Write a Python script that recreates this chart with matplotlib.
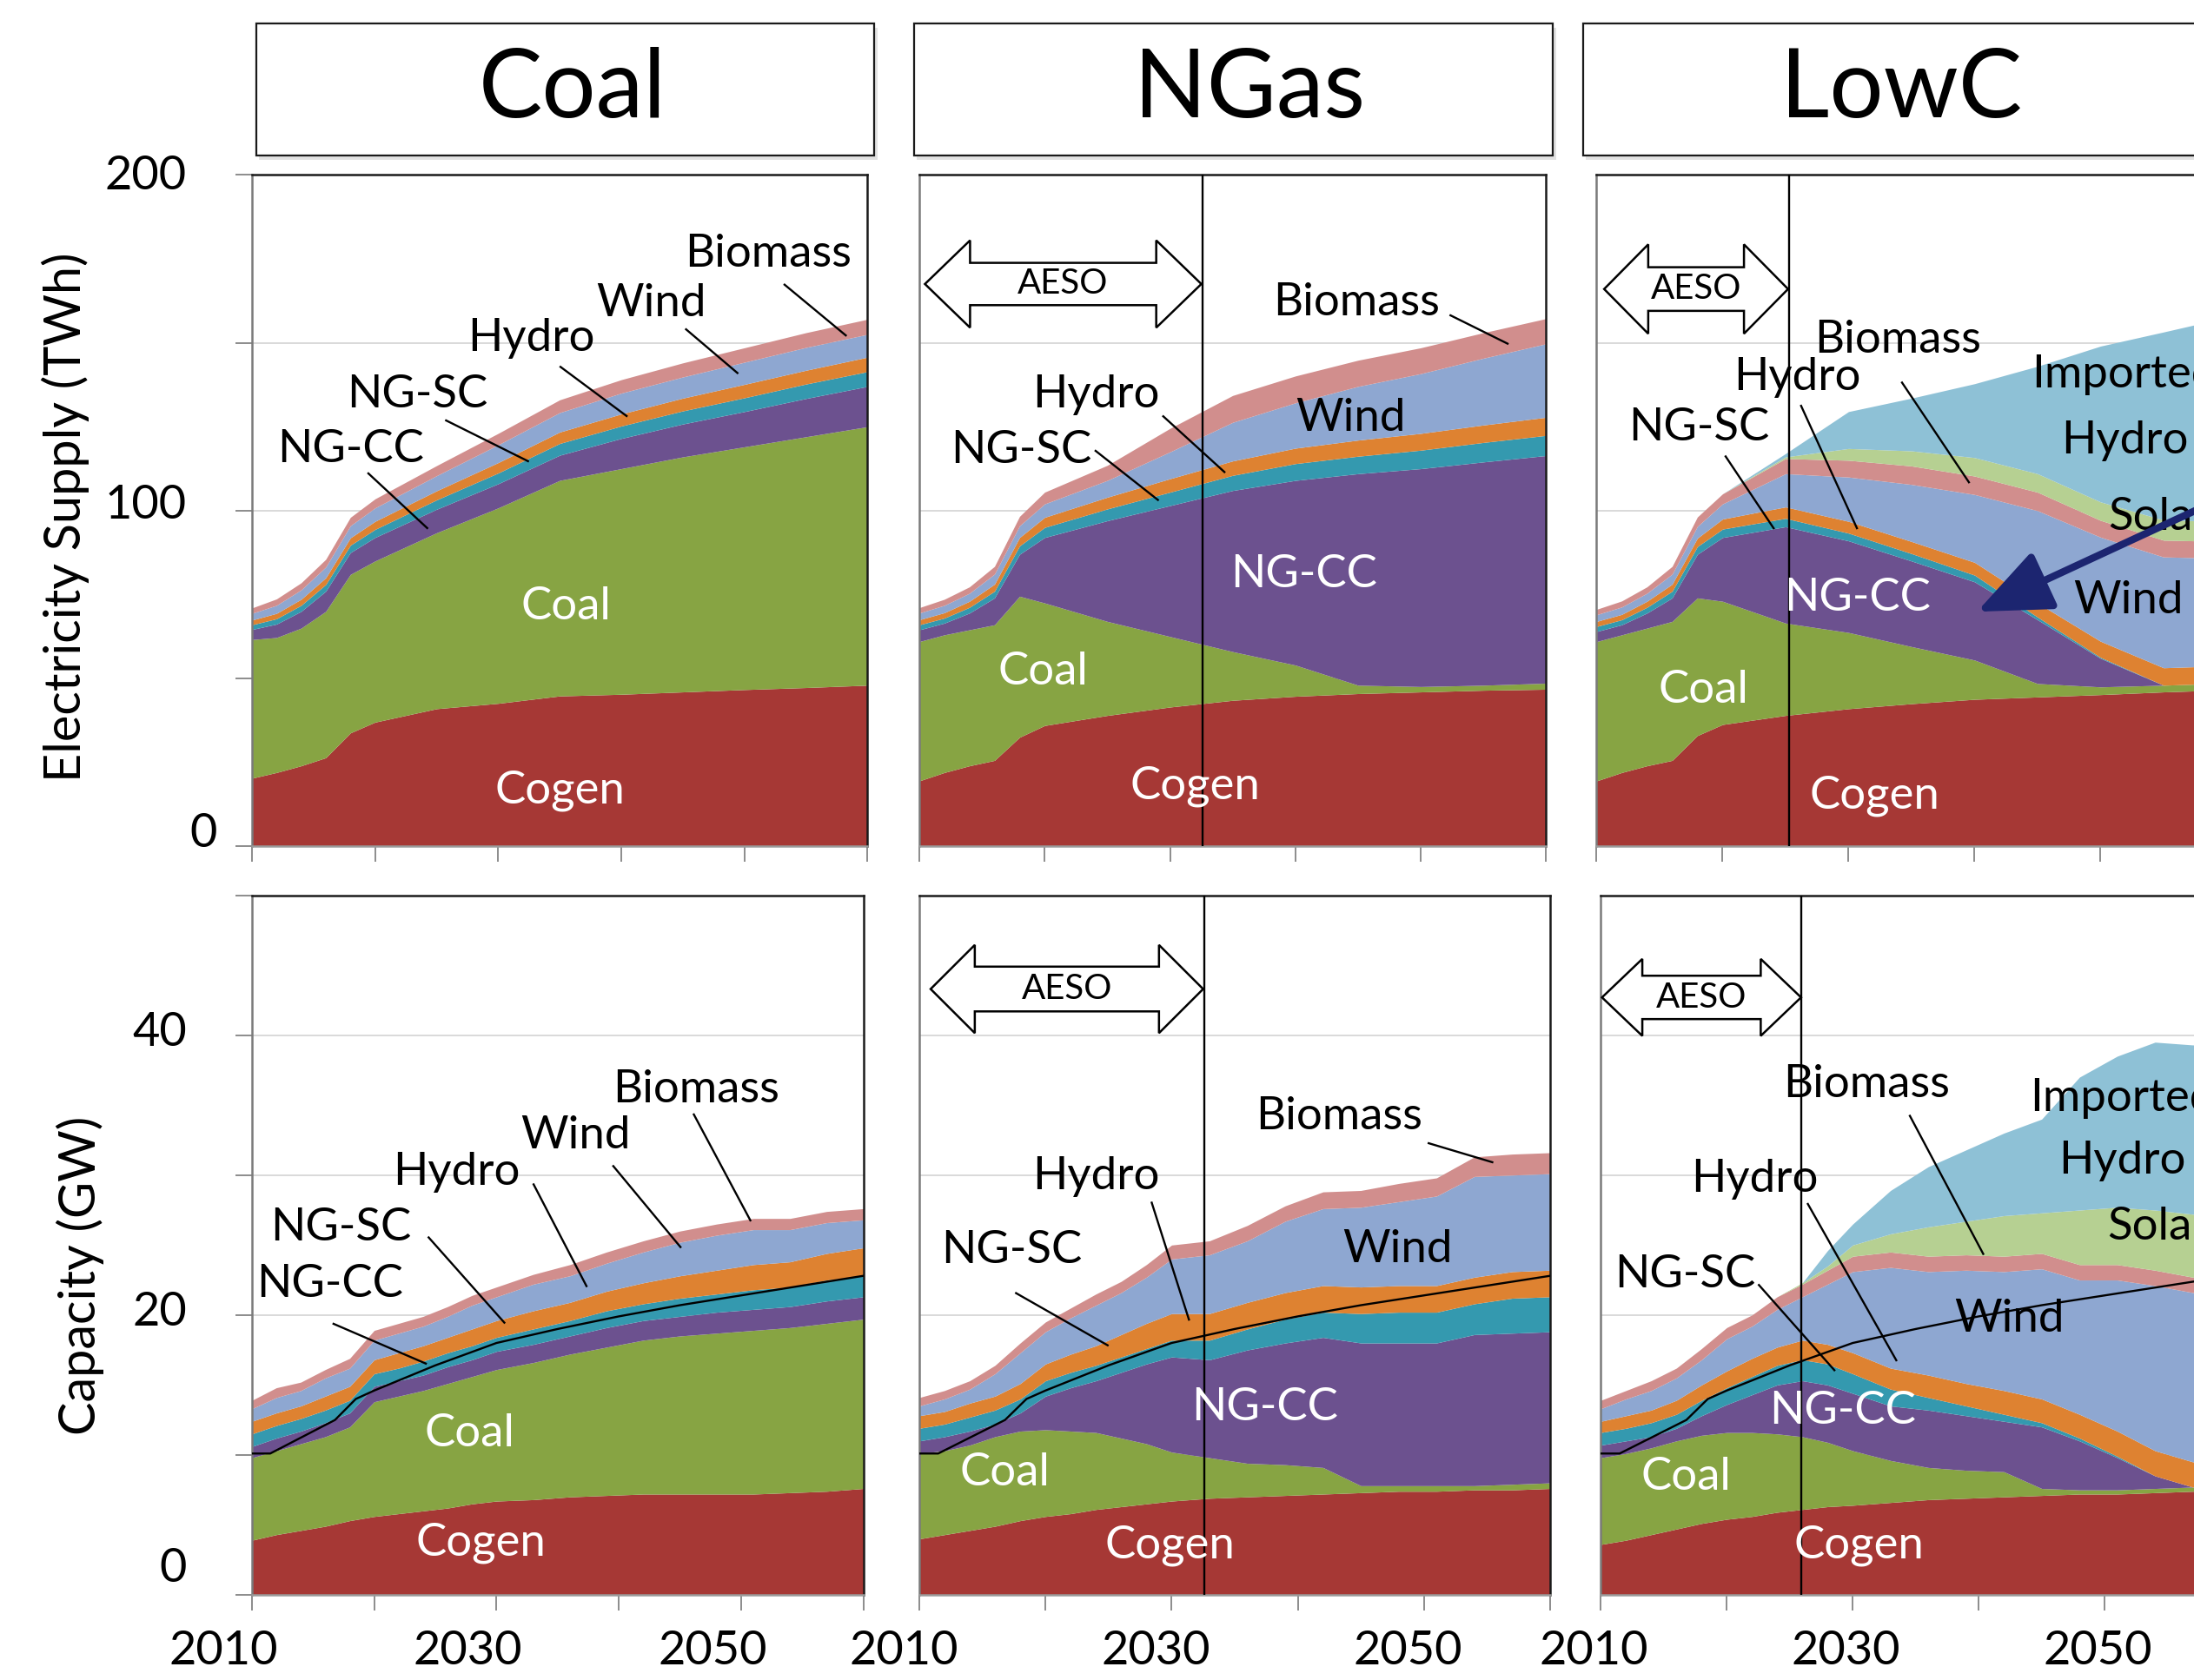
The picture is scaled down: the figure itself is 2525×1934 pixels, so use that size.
import numpy as np
import matplotlib
matplotlib.use("Agg")
import matplotlib.pyplot as plt
from matplotlib.patches import Polygon, Rectangle
from matplotlib.transforms import ScaledTranslation

plt.rcParams['font.family'] = ['Lato', 'DejaVu Sans']

# ---------------------------------------------------------------
# Electricity supply (TWh) by scenario
# ---------------------------------------------------------------
years_twh = [2010, 2012, 2014, 2016, 2018, 2020, 2025, 2030, 2035, 2040, 2045, 2050, 2055, 2060]

coal_twh_cogen = [20.3, 22.0, 24.0, 26.4, 33.8, 37.0, 41.0, 42.6, 44.8, 45.3, 46.0, 46.7, 47.3, 48.0]
coal_twh_coal = [41.3, 40.2, 41.0, 43.6, 47.2, 48.0, 52.4, 58.2, 64.2, 67.2, 70.0, 72.3, 74.7, 77.0]
coal_twh_ngcc = [3.0, 4.0, 5.0, 6.0, 6.5, 7.0, 7.0, 7.2, 7.5, 9.0, 9.8, 10.5, 11.4, 12.0]
coal_twh_ngsc = [1.4, 1.6, 1.8, 2.0, 2.2, 2.4, 2.8, 3.2, 3.5, 3.7, 3.9, 4.1, 4.3, 4.4]
coal_twh_hydro = [1.4, 1.6, 1.8, 2.0, 2.2, 2.4, 2.7, 3.1, 3.4, 3.6, 3.8, 4.0, 4.1, 4.3]
coal_twh_wind = [2.0, 2.4, 2.8, 3.2, 3.6, 4.0, 4.5, 5.3, 5.8, 6.2, 6.3, 6.6, 6.8, 6.8]
coal_twh_biomass = [1.6, 1.9, 2.1, 2.3, 2.5, 2.7, 3.0, 3.4, 3.8, 4.0, 4.2, 4.3, 4.4, 4.5]

ngas_twh_cogen = [19.5, 22.0, 24.0, 25.6, 32.5, 36.0, 39.0, 41.5, 43.5, 44.7, 45.5, 46.0, 46.5, 46.8]
ngas_twh_coal = [41.5, 41.0, 40.5, 40.4, 42.0, 36.5, 28.0, 21.0, 14.5, 9.3, 2.5, 1.6, 1.5, 1.8]
ngas_twh_ngcc = [3.5, 3.5, 5.0, 8.0, 12.5, 19.5, 30.0, 39.0, 48.0, 55.0, 63.0, 64.9, 66.5, 67.8]
ngas_twh_ngsc = [1.5, 1.5, 1.7, 2.0, 2.5, 3.0, 3.5, 4.0, 4.5, 5.0, 5.2, 5.5, 5.8, 6.0]
ngas_twh_hydro = [1.5, 1.6, 1.8, 2.1, 2.5, 3.0, 3.5, 4.0, 4.3, 4.6, 4.8, 5.0, 5.2, 5.4]
ngas_twh_wind = [2.0, 2.2, 2.4, 3.0, 3.5, 4.0, 5.0, 8.0, 11.5, 13.5, 16.0, 17.8, 19.9, 21.9]
ngas_twh_biomass = [1.6, 1.8, 1.9, 2.3, 2.8, 3.5, 4.5, 7.0, 8.0, 8.0, 7.8, 7.7, 7.6, 7.5]

lowc_twh_cogen = [19.5, 22.0, 24.0, 25.6, 33.0, 36.3, 39.0, 41.0, 42.5, 43.8, 44.5, 45.2, 46.0, 46.6]
lowc_twh_coal = [41.5, 41.0, 41.0, 41.4, 41.0, 36.7, 27.5, 22.7, 17.0, 11.7, 4.0, 2.3, 2.0, 2.0]
lowc_twh_ngcc = [3.0, 3.0, 4.5, 7.0, 13.0, 19.0, 28.7, 27.3, 25.5, 23.3, 19.0, 8.5, 0.0, 0.0]
lowc_twh_ngsc = [1.5, 1.5, 1.7, 2.0, 2.3, 2.5, 2.5, 2.3, 2.2, 2.0, 0.8, 0.3, 0.0, 0.0]
lowc_twh_hydro = [1.5, 1.6, 1.8, 2.1, 2.5, 3.0, 3.4, 3.5, 3.6, 3.8, 4.2, 4.8, 5.2, 5.2]
lowc_twh_wind = [2.0, 2.2, 2.4, 3.0, 3.5, 4.5, 9.9, 13.2, 17.0, 20.2, 27.5, 31.0, 33.0, 32.0]
lowc_twh_biomass = [1.6, 1.8, 1.9, 2.3, 2.8, 3.0, 4.5, 5.0, 5.5, 5.5, 5.5, 5.0, 5.0, 5.0]
lowc_twh_solar = [0, 0, 0, 0, 0, 0, 0.5, 3.5, 4.5, 5.5, 5.5, 5.5, 6.0, 6.0]
lowc_twh_imported = [0, 0, 0, 0, 0, 0, 1.0, 11.0, 15.7, 22.0, 32.0, 46.4, 56.0, 60.7]

# ---------------------------------------------------------------
# Installed capacity (GW) by scenario
# ---------------------------------------------------------------
years_gw = [2010, 2012, 2014, 2016, 2018, 2020, 2022, 2024, 2026, 2028, 2030,
            2033, 2036, 2039, 2042, 2045, 2048, 2051, 2054, 2057, 2060]

coal_gw_cogen = [3.9, 4.3, 4.6, 4.9, 5.3, 5.6, 5.8, 6.0, 6.2, 6.5, 6.7, 6.8, 7.0, 7.1, 7.2, 7.2, 7.2, 7.2, 7.3, 7.4, 7.6]
coal_gw_coal = [5.9, 6.0, 6.2, 6.4, 6.7, 8.2, 8.4, 8.6, 8.9, 9.1, 9.4, 9.8, 10.2, 10.6, 11.0, 11.3, 11.5, 11.7, 11.8, 12.0, 12.1]
coal_gw_ngcc = [0.8, 0.9, 0.9, 1.0, 1.0, 1.1, 1.1, 1.1, 1.2, 1.2, 1.3, 1.3, 1.3, 1.4, 1.4, 1.4, 1.5, 1.5, 1.5, 1.6, 1.6]
coal_gw_ngsc = [0.9, 0.9, 0.9, 0.9, 0.9, 0.9, 0.9, 1.0, 1.0, 1.0, 1.0, 1.1, 1.1, 1.2, 1.2, 1.3, 1.3, 1.4, 1.4, 1.5, 1.5]
coal_gw_hydro = [0.9, 0.9, 0.9, 1.0, 1.0, 1.0, 1.1, 1.1, 1.1, 1.2, 1.2, 1.3, 1.3, 1.4, 1.5, 1.6, 1.7, 1.8, 1.8, 1.9, 2.0]
coal_gw_wind = [0.9, 1.1, 1.1, 1.3, 1.3, 1.4, 1.4, 1.4, 1.5, 1.7, 1.7, 1.9, 1.9, 2.0, 2.2, 2.4, 2.5, 2.5, 2.3, 2.2, 2.0]
coal_gw_biomass = [0.6, 0.7, 0.6, 0.6, 0.7, 0.7, 0.7, 0.7, 0.7, 0.7, 0.7, 0.7, 0.8, 0.8, 0.8, 0.8, 0.8, 0.8, 0.8, 0.8, 0.8]

ngas_gw_cogen = [4.0, 4.3, 4.6, 4.9, 5.3, 5.6, 5.8, 6.1, 6.3, 6.5, 6.7, 6.9, 7.0, 7.1, 7.2, 7.3, 7.4, 7.4, 7.5, 7.5, 7.6]
ngas_gw_coal = [6.1, 6.0, 6.1, 6.4, 6.4, 6.2, 5.9, 5.5, 4.9, 4.3, 3.5, 2.9, 2.4, 2.2, 1.9, 0.5, 0.4, 0.4, 0.3, 0.4, 0.4]
ngas_gw_ngcc = [0.9, 1.0, 1.0, 0.9, 1.3, 2.4, 3.1, 3.7, 4.7, 5.7, 6.8, 7.0, 8.1, 8.7, 9.3, 10.2, 10.2, 10.2, 10.8, 10.8, 10.8]
ngas_gw_ngsc = [0.9, 0.9, 1.0, 1.0, 1.0, 1.1, 1.1, 1.1, 1.1, 1.1, 1.2, 1.4, 1.5, 1.7, 1.8, 2.1, 2.2, 2.2, 2.2, 2.5, 2.5]
ngas_gw_hydro = [0.9, 0.9, 1.0, 1.0, 1.1, 1.2, 1.3, 1.4, 1.6, 1.8, 1.9, 1.9, 1.9, 1.9, 1.9, 1.9, 1.9, 1.9, 1.9, 1.9, 1.9]
ngas_gw_wind = [0.7, 0.9, 1.0, 1.6, 2.2, 2.3, 2.6, 2.9, 3.0, 3.3, 3.9, 4.2, 4.4, 5.1, 5.5, 5.7, 6.0, 6.4, 7.2, 6.9, 6.9]
ngas_gw_biomass = [0.6, 0.6, 0.6, 0.6, 0.7, 0.7, 0.7, 0.8, 0.8, 0.9, 1.0, 1.0, 1.1, 1.1, 1.2, 1.2, 1.3, 1.3, 1.4, 1.5, 1.5]

lowc_gw_cogen = [3.6, 3.9, 4.3, 4.7, 5.1, 5.4, 5.6, 5.9, 6.1, 6.3, 6.4, 6.6, 6.8, 6.9, 7.0, 7.1, 7.2, 7.2, 7.3, 7.4, 7.5]
lowc_gw_coal = [6.2, 6.2, 6.2, 6.3, 6.3, 6.2, 6.0, 5.6, 5.2, 4.6, 3.9, 3.0, 2.3, 2.0, 1.8, 0.5, 0.3, 0.3, 0.3, 0.3, 0.3]
lowc_gw_ngcc = [0.9, 0.9, 0.8, 0.9, 1.4, 2.0, 2.7, 3.5, 4.0, 4.1, 4.1, 3.9, 4.1, 3.9, 3.6, 4.4, 3.5, 2.3, 0.9, 0.0, 0.0]
lowc_gw_ngsc = [0.9, 0.9, 1.0, 1.0, 1.1, 1.2, 1.3, 1.4, 1.5, 1.5, 1.4, 1.2, 0.9, 0.7, 0.5, 0.3, 0.2, 0.1, 0.0, 0.0, 0.0]
lowc_gw_hydro = [0.8, 0.9, 0.9, 1.0, 1.1, 1.2, 1.3, 1.3, 1.4, 1.4, 1.5, 1.5, 1.6, 1.6, 1.7, 1.7, 1.7, 1.8, 1.8, 1.8, 1.8]
lowc_gw_wind = [0.9, 1.2, 1.4, 1.6, 1.8, 2.3, 2.3, 2.7, 3.1, 4.3, 5.8, 7.2, 7.4, 8.1, 8.5, 9.3, 9.6, 10.8, 11.8, 12.1, 12.1]
lowc_gw_biomass = [0.6, 0.6, 0.7, 0.7, 0.8, 0.8, 0.8, 0.9, 0.9, 1.0, 1.1, 1.1, 1.1, 1.1, 1.1, 1.1, 1.1, 1.1, 1.1, 1.1, 1.1]
lowc_gw_solar = [0, 0, 0, 0, 0, 0, 0, 0, 0.1, 0.3, 0.8, 1.3, 2.1, 2.4, 2.9, 2.9, 3.9, 4.1, 4.3, 4.5, 4.6]
lowc_gw_imported = [0, 0, 0, 0, 0, 0, 0, 0, 0, 1.1, 1.5, 3.1, 4.3, 5.1, 5.9, 6.7, 9.5, 10.8, 12.0, 12.1, 12.1]

# peak load line drawn on the capacity panels
load_years = [2010, 2011.5, 2016.8, 2018.5, 2020, 2025, 2030, 2035, 2040, 2045, 2050, 2055, 2060]
load_gw = [10.1, 10.1, 12.5, 14.0, 14.6, 16.4, 18.0, 19.0, 19.9, 20.7, 21.4, 22.1, 22.8]

COLORS = {
    'Cogen': '#A63835', 'Coal': '#87A443', 'NG-CC': '#6C518F', 'NG-SC': '#3499AF',
    'Hydro': '#DE8231', 'Wind': '#8EA7D1', 'Biomass': '#D18E8D', 'Solar': '#B6D092',
    'Imported Hydro': '#8EC1D6',
}

supply = {
    'Coal': [('Cogen', coal_twh_cogen), ('Coal', coal_twh_coal), ('NG-CC', coal_twh_ngcc),
             ('NG-SC', coal_twh_ngsc), ('Hydro', coal_twh_hydro), ('Wind', coal_twh_wind),
             ('Biomass', coal_twh_biomass)],
    'NGas': [('Cogen', ngas_twh_cogen), ('Coal', ngas_twh_coal), ('NG-CC', ngas_twh_ngcc),
             ('NG-SC', ngas_twh_ngsc), ('Hydro', ngas_twh_hydro), ('Wind', ngas_twh_wind),
             ('Biomass', ngas_twh_biomass)],
    'LowC': [('Cogen', lowc_twh_cogen), ('Coal', lowc_twh_coal), ('NG-CC', lowc_twh_ngcc),
             ('NG-SC', lowc_twh_ngsc), ('Hydro', lowc_twh_hydro), ('Wind', lowc_twh_wind),
             ('Biomass', lowc_twh_biomass), ('Solar', lowc_twh_solar),
             ('Imported Hydro', lowc_twh_imported)],
}
capacity = {
    'Coal': [('Cogen', coal_gw_cogen), ('Coal', coal_gw_coal), ('NG-CC', coal_gw_ngcc),
             ('NG-SC', coal_gw_ngsc), ('Hydro', coal_gw_hydro), ('Wind', coal_gw_wind),
             ('Biomass', coal_gw_biomass)],
    'NGas': [('Cogen', ngas_gw_cogen), ('Coal', ngas_gw_coal), ('NG-CC', ngas_gw_ngcc),
             ('NG-SC', ngas_gw_ngsc), ('Hydro', ngas_gw_hydro), ('Wind', ngas_gw_wind),
             ('Biomass', ngas_gw_biomass)],
    'LowC': [('Cogen', lowc_gw_cogen), ('Coal', lowc_gw_coal), ('NG-CC', lowc_gw_ngcc),
             ('NG-SC', lowc_gw_ngsc), ('Hydro', lowc_gw_hydro), ('Wind', lowc_gw_wind),
             ('Biomass', lowc_gw_biomass), ('Solar', lowc_gw_solar),
             ('Imported Hydro', lowc_gw_imported)],
}

LABEL_FS = 38
TICK_FS = 39

fig = plt.figure(figsize=(25.25, 19.34), dpi=100)


def draw_stack(ax, years, layers):
    base = np.zeros(len(years))
    for name, vals in layers:
        top = base + np.asarray(vals, dtype=float)
        ax.fill_between(years, base, top, color=COLORS[name], lw=0, zorder=2)
        base = top


def style_axes(ax, ymax, ystep, first_col, bottom_row, x_shift_px):
    ax.set_xlim(2010, 2060)
    ax.set_ylim(0, ymax)
    ax.set_xticks(range(2010, 2061, 10))
    if bottom_row:
        ax.set_xticklabels(['2010', '', '2030', '', '2050', ''])
    else:
        ax.set_xticklabels([])
    ax.set_yticks(np.arange(0, ymax + 1, ystep))
    ax.grid(axis='y', color='#d9d9d9', lw=1.4, zorder=1)
    ax.set_axisbelow(True)
    ax.tick_params(axis='x', direction='out', length=13, width=1.4, color='#8c8c8c',
                   labelsize=TICK_FS, pad=16)
    if first_col:
        ax.tick_params(axis='y', direction='out', length=14, width=1.4, color='#8c8c8c',
                       labelsize=TICK_FS, pad=40)
    else:
        ax.tick_params(axis='y', length=0, labelleft=False)
    for side in ('top', 'right'):
        ax.spines[side].set_color('#1a1a1a')
        ax.spines[side].set_linewidth(1.8)
    ax.spines['left'].set_color('#7a7a7a')
    ax.spines['left'].set_linewidth(1.8)
    ax.spines['bottom'].set_color('#9a9a9a')
    ax.spines['bottom'].set_linewidth(1.8)
    for lbl in ax.get_xticklabels():
        lbl.set_transform(lbl.get_transform() +
                          ScaledTranslation(x_shift_px / 100, 0, fig.dpi_scale_trans))


def shift_ylabels(ax, offsets):
    ticks = ax.get_yticks()
    for val, lbl in zip(ticks, ax.get_yticklabels()):
        dx, dy = offsets.get(int(round(val)), (0, 0))
        lbl.set_transform(lbl.get_transform() +
                          ScaledTranslation(dx / 100, dy / 100, fig.dpi_scale_trans))


def put(ax, x, y, s, color='black', size=LABEL_FS, ha='center'):
    ax.text(x, y, s, ha=ha, va='center', fontsize=size, color=color, zorder=8)


def leader(ax, x0, y0, x1, y1):
    ax.plot([x0, x1], [y0, y1], color='black', lw=1.7, zorder=7, solid_capstyle='butt')


def aeso(ax, x0, x1, yc, head_h, shaft_h, head_len):
    pts = [(x0, yc), (x0 + head_len, yc + head_h), (x0 + head_len, yc + shaft_h),
           (x1 - head_len, yc + shaft_h), (x1 - head_len, yc + head_h), (x1, yc),
           (x1 - head_len, yc - head_h), (x1 - head_len, yc - shaft_h),
           (x0 + head_len, yc - shaft_h), (x0 + head_len, yc - head_h)]
    ax.add_patch(Polygon(pts, closed=True, fc='white', ec='black', lw=1.8, zorder=6))
    ax.text((x0 + x1) / 2, yc, 'AESO', ha='center', va='center', fontsize=29, zorder=8)


# panel geometry (figure fractions)
top_boxes = [[0.1148, 0.4962, 0.2806, 0.3997],
             [0.4190, 0.4962, 0.2857, 0.3997],
             [0.7277, 0.4962, 0.2871, 0.3997]]
bot_boxes = [[0.1148, 0.0507, 0.2787, 0.4164],
             [0.4190, 0.0507, 0.2875, 0.4164],
             [0.7296, 0.0507, 0.2871, 0.4164]]
scenarios = ['Coal', 'NGas', 'LowC']
x_shifts = [-33, -18, -8]

axes_top, axes_bot = [], []
for i, sc in enumerate(scenarios):
    at = fig.add_axes(top_boxes[i])
    draw_stack(at, years_twh, supply[sc])
    style_axes(at, 200, 50, i == 0, False, x_shifts[i])
    axes_top.append(at)

    ab = fig.add_axes(bot_boxes[i])
    draw_stack(ab, years_gw, capacity[sc])
    ab.plot(load_years, load_gw, color='black', lw=1.7, zorder=5)
    style_axes(ab, 50, 10, i == 0, True, x_shifts[i])
    axes_bot.append(ab)

axes_top[0].set_yticklabels(['0', '', '100', '', '200'])
axes_bot[0].set_yticklabels(['0', '', '20', '', '40', ''])
shift_ylabels(axes_top[0], {200: (0, 3), 100: (0, 11), 0: (35, 19)})
shift_ylabels(axes_bot[0], {40: (0, 8), 20: (0, 8), 0: (0, 35)})

# ---- Coal scenario, supply ----
ax = axes_top[0]
put(ax, 2051.9, 176.3, 'Biomass'); leader(ax, 2053.2, 167.5, 2058.3, 152.0)
put(ax, 2042.4, 161.7, 'Wind'); leader(ax, 2045.2, 154.2, 2049.5, 140.8)
put(ax, 2032.7, 151.3, 'Hydro'); leader(ax, 2035.0, 143.0, 2040.5, 128.0)
put(ax, 2023.4, 134.6, 'NG-SC'); leader(ax, 2025.7, 127.0, 2032.5, 114.6)
put(ax, 2018.0, 118.3, 'NG-CC'); leader(ax, 2019.4, 111.3, 2024.3, 94.6)
put(ax, 2035.5, 71.3, 'Coal', color='white')
put(ax, 2035.0, 16.7, 'Cogen', color='white')

# ---- NGas scenario, supply ----
ax = axes_top[1]
ax.axvline(2032.6, color='black', lw=1.7, zorder=6)
aeso(ax, 2010.45, 2032.5, 167.5, 13.0, 6.3, 3.6)
put(ax, 2044.9, 162.0, 'Biomass'); leader(ax, 2052.3, 158.3, 2057.0, 149.6)
put(ax, 2024.1, 134.6, 'Hydro'); leader(ax, 2029.4, 128.3, 2034.4, 111.3)
put(ax, 2044.4, 127.5, 'Wind')
put(ax, 2018.1, 118.0, 'NG-SC'); leader(ax, 2024.0, 118.0, 2029.1, 103.0)
put(ax, 2040.7, 81.0, 'NG-CC', color='white')
put(ax, 2019.9, 52.0, 'Coal', color='white')
put(ax, 2032.0, 18.0, 'Cogen', color='white')

# ---- LowC scenario, supply ----
ax = axes_top[2]
ax.axvline(2025.3, color='black', lw=1.7, zorder=6)
aeso(ax, 2010.6, 2025.2, 166.0, 13.3, 6.5, 3.5)
put(ax, 2033.9, 150.7, 'Biomass'); leader(ax, 2034.2, 138.4, 2039.6, 108.2)
put(ax, 2025.9, 139.7, 'Hydro'); leader(ax, 2026.2, 131.5, 2030.7, 94.5)
put(ax, 2018.1, 124.7, 'NG-SC'); leader(ax, 2020.2, 116.4, 2024.1, 94.5)
put(ax, 2051.9, 140.4, 'Imported')
put(ax, 2051.9, 120.8, 'Hydro')
put(ax, 2054.6, 97.9, 'Solar')
put(ax, 2052.2, 73.3, 'Wind')
put(ax, 2030.7, 74.0, 'NG-CC', color='white')
put(ax, 2018.5, 46.6, 'Coal', color='white')
put(ax, 2032.1, 15.0, 'Cogen', color='white')
ax.annotate('', xy=(2040.2, 69.9), xytext=(2062.0, 107.8),
            arrowprops=dict(arrowstyle='-|>,head_length=1.3,head_width=0.55',
                            color='#1c2570', lw=6, mutation_scale=40,
                            shrinkA=0, shrinkB=0),
            annotation_clip=False, zorder=9)

# ---- Coal scenario, capacity ----
ax = axes_bot[0]
put(ax, 2046.3, 36.1, 'Biomass'); leader(ax, 2046.1, 34.4, 2050.8, 26.7)
put(ax, 2036.5, 32.8, 'Wind'); leader(ax, 2039.5, 30.7, 2045.1, 24.8)
put(ax, 2026.7, 30.2, 'Hydro'); leader(ax, 2033.0, 29.4, 2037.4, 22.0)
put(ax, 2017.3, 26.2, 'NG-SC'); leader(ax, 2024.4, 25.6, 2030.7, 19.4)
put(ax, 2016.4, 22.2, 'NG-CC'); leader(ax, 2016.6, 19.4, 2024.3, 16.5)
put(ax, 2027.8, 11.5, 'Coal', color='white')
put(ax, 2028.7, 3.7, 'Cogen', color='white')

# ---- NGas scenario, capacity ----
ax = axes_bot[1]
ax.axvline(2032.6, color='black', lw=1.7, zorder=6)
aeso(ax, 2010.9, 2032.5, 43.3, 3.15, 1.6, 3.5)
put(ax, 2043.3, 34.2, 'Biomass'); leader(ax, 2050.3, 32.3, 2055.5, 30.9)
put(ax, 2024.0, 29.9, 'Hydro'); leader(ax, 2028.4, 28.1, 2031.4, 19.6)
put(ax, 2017.3, 24.6, 'NG-SC'); leader(ax, 2017.6, 21.6, 2025.0, 17.8)
put(ax, 2047.9, 24.7, 'Wind')
put(ax, 2037.4, 13.4, 'NG-CC', color='white')
put(ax, 2016.8, 8.7, 'Coal', color='white')
put(ax, 2029.9, 3.5, 'Cogen', color='white')

# ---- LowC scenario, capacity ----
ax = axes_bot[2]
ax.axvline(2025.9, color='black', lw=1.7, zorder=6)
aeso(ax, 2010.1, 2025.9, 42.7, 2.75, 1.55, 3.2)
put(ax, 2031.1, 36.5, 'Biomass'); leader(ax, 2034.5, 34.3, 2040.4, 24.3)
put(ax, 2022.2, 29.7, 'Hydro'); leader(ax, 2026.4, 28.0, 2033.5, 16.7)
put(ax, 2016.7, 22.9, 'NG-SC'); leader(ax, 2022.5, 22.2, 2028.6, 16.0)
put(ax, 2051.4, 35.5, 'Imported')
put(ax, 2051.4, 31.0, 'Hydro')
put(ax, 2054.2, 26.3, 'Solar')
put(ax, 2042.4, 19.7, 'Wind')
put(ax, 2029.2, 13.1, 'NG-CC', color='white')
put(ax, 2016.8, 8.4, 'Coal', color='white')
put(ax, 2030.5, 3.5, 'Cogen', color='white')

# scenario header boxes
header_x = [(0.1167, 0.2819), (0.4165, 0.2914), (0.7214, 0.2914)]
header_cx = [0.261, 0.5695, 0.8667]
hb, hh = 0.9075, 0.0783
for (x0, w), cx, name in zip(header_x, header_cx, scenarios):
    fig.add_artist(Rectangle((x0 + 0.0015, hb - 0.0025), w, hh, transform=fig.transFigure,
                             fc='#e2e2e2', ec='none', zorder=0))
    fig.add_artist(Rectangle((x0, hb), w, hh, transform=fig.transFigure,
                             fc='white', ec='#1a1a1a', lw=1.6, zorder=1))
    fig.text(cx, 0.930, name, ha='center', va='baseline', fontsize=79, zorder=2)

fig.text(0.030, 0.692, 'Electricity Supply (TWh)', rotation=90, ha='center', va='center',
         fontsize=41.5)
fig.text(0.0364, 0.2405, 'Capacity (GW)', rotation=90, ha='center', va='center',
         fontsize=41.5)

fig.savefig('out.png', dpi=100, facecolor='white')
